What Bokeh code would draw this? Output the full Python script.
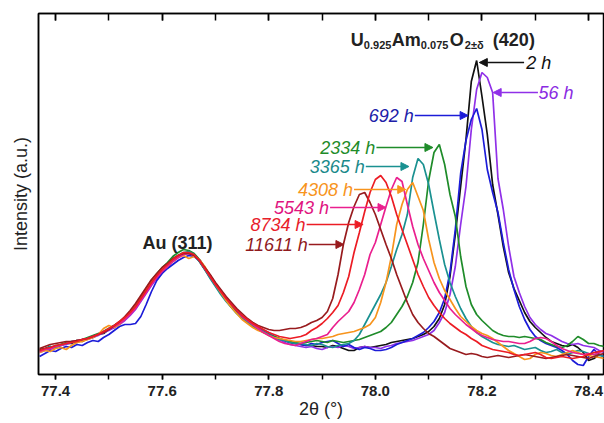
import numpy as np
from bokeh.plotting import figure
from bokeh.models import (ColumnDataSource, LinearAxis, Range1d, Arrow, NormalHead,
                          FixedTicker, NumeralTickFormatter, CustomJSTickFormatter)
from bokeh.embed import file_html
from bokeh.resources import INLINE
from bokeh.core.properties import value

# ---------------- data ----------------
two_theta = np.round(np.arange(77.37, 78.435, 0.01), 2)   # 107 sample positions

series_names = ["2 h", "56 h", "692 h", "2334 h", "3365 h", "4308 h", "5543 h", "8734 h", "11611 h"]

# Au (311) region, 77.37 .. 77.85
au_2h = [25,26,28,27,30,31,31,34,33,36,37,40,41,45,47,51,55,61,67,75,83,91,98,104,109,114,119,121,122,119,113,105,97,89,82,75,69,63,57,53,49,46,43,40,38,35,34,32,31]
au_56h = [22,24,25,27,29,30,32,32,34,35,37,39,42,44,47,50,54,59,65,73,81,89,96,102,107,113,117,120,121,120,115,107,99,91,84,77,71,65,59,55,51,47,44,42,38,35,32,30,29]
au_692h = [18,21,24,23,26,28,27,30,29,32,34,33,37,40,44,48,50,50,51,58,70,83,94,101,106,110,114,117,119,118,114,107,99,91,84,77,70,64,58,53,49,46,43,40,38,36,34,32,31]
au_2334h = [24,25,27,29,30,32,33,34,35,37,39,41,43,46,49,52,57,62,69,77,86,94,101,107,112,118,122,125,124,121,115,107,98,89,81,74,67,61,56,52,48,45,42,40,38,36,34,33,32]
au_3365h = [23,25,28,27,29,31,33,32,35,36,38,40,43,46,49,52,56,61,67,75,83,91,98,104,109,115,119,122,123,120,113,105,96,88,80,73,67,61,56,52,49,46,43,40,37,35,34,32,31]
au_4308h = [22,24,23,26,27,25,29,32,33,35,37,40,46,49,47,50,56,62,68,75,84,92,99,104,108,113,117,119,116,118,115,108,99,90,82,74,67,61,55,51,47,44,42,39,37,36,35,34,33]
au_5543h = [23,25,26,28,29,31,33,34,35,36,38,40,42,45,48,51,55,60,66,74,82,90,97,103,108,113,117,120,121,119,114,106,98,90,83,76,70,64,58,54,50,46,42,39,36,33,31,30,29]
au_8734h = [24,26,27,29,30,31,32,33,35,36,38,40,43,46,49,53,57,62,68,76,84,92,99,105,110,115,119,122,122,120,114,106,98,90,83,76,70,64,59,55,51,48,45,42,40,38,37,36,37]
au_11611h = [26,28,30,31,32,33,33,34,35,36,38,40,42,45,49,53,58,64,71,79,87,95,101,107,111,116,119,121,121,119,114,107,100,92,85,78,72,66,61,56,52,49,47,45,44,44,45,46,46]

# U0.925Am0.075O2 (420) region, 77.86 .. 78.43
pk_2h = [30,29,29,28,28,27,29,28,26,24,24,27,28,27,
         28,29,30,32,33,34,35,36,38,40,
         43,48,56,70,98,140,188,235,293,314,
         278,240,190,160,128,102,86,74,62,53,
         47,42,37,33,31,29,28,30,27,22,
         14,16,20,18]
pk_56h = [28,27,28,26,25,27,28,27,29,28,26,27,28,27,
          27,26,28,29,31,32,33,34,36,38,
          40,44,52,62,80,108,150,188,245,285,
          302,297,282,196,165,128,98,82,68,57,
          50,45,41,39,36,33,31,30,31,29,
          28,27,24,22]
pk_692h = [30,29,31,30,32,33,34,31,28,30,27,25,27,26,
           24,24,25,27,30,32,34,36,39,42,
           47,53,62,76,102,145,201,234,255,266,
           245,205,182,162,132,105,85,68,55,45,
           38,34,31,29,27,24,20,14,10,9,
           18,25,20,18]
pk_2334h = [31,32,33,34,33,32,34,33,32,33,34,35,37,39,
            41,43,47,52,60,68,78,92,112,150,
            194,222,230,210,180,158,118,88,70,60,
            54,49,44,41,39,38,38,37,38,37,
            36,35,32,30,28,27,29,33,38,35,
            31,31,29,28]
pk_3365h = [31,30,29,31,30,28,27,29,30,31,34,40,50,60,
            70,80,92,108,125,140,160,197,216,210,
            190,162,135,110,92,78,66,56,48,42,
            38,35,32,30,29,28,29,27,25,26,
            27,24,22,23,25,22,20,22,24,23,
            21,20,19,18]
pk_4308h = [33,34,35,36,36,37,38,40,41,42,43,45,47,50,
            57,72,92,118,150,170,185,192,178,164,
            135,112,96,84,75,66,58,53,48,44,
            41,39,36,32,28,24,21,18,15,16,
            20,22,21,19,18,20,22,24,22,20,
            19,18,17,16]
pk_5543h = [31,33,35,36,38,40,47,53,58,63,72,85,100,120,
            132,150,168,185,197,193,170,148,130,116,
            104,92,82,74,66,60,55,50,46,42,
            39,37,35,34,33,33,32,31,31,33,
            36,37,36,33,29,26,24,22,21,20,
            21,20,22,24]
pk_8734h = [38,40,44,47,51,56,62,69,82,98,122,142,163,182,
            195,199,192,178,160,145,130,115,100,88,
            77,69,62,56,51,47,43,40,36,33,
            29,27,25,24,23,22,20,19,20,21,
            22,20,17,16,17,18,17,16,17,18,
            20,22,23,24]
pk_11611h = [47,49,52,54,57,63,76,100,130,152,168,180,182,172,
             160,145,130,116,100,86,72,60,52,46,
             41,38,34,30,26,24,22,20,21,20,
             18,17,18,19,18,17,18,19,20,19,
             18,17,16,17,18,19,20,19,18,17,
             16,18,20,21]

au_parts = [au_2h, au_56h, au_692h, au_2334h, au_3365h, au_4308h, au_5543h, au_8734h, au_11611h]
pk_parts = [pk_2h, pk_56h, pk_692h, pk_2334h, pk_3365h, pk_4308h, pk_5543h, pk_8734h, pk_11611h]

x_major_ticks = [77.4, 77.6, 77.8, 78.0, 78.2, 78.4]
x_minor_ticks = [77.4, 77.5, 77.6, 77.7, 77.8, 77.9, 78.0, 78.1, 78.2, 78.3, 78.4]

# ---------------- styles ----------------
colors = ["#111111", "#9030e8", "#1c1cd8", "#1f8c2a", "#1a9191", "#f7941d",
          "#ea1f8e", "#ec1c24", "#981b1e"]
text_colors = ["#111111", "#8a2be2", "#2020a8", "#1f8c2a", "#1a8a8a", "#f7941d",
               "#e0157f", "#e8202a", "#8f1a1d"]
draw_order = [0, 1, 2, 3, 4, 5, 6, 8, 7]

FONT = "Liberation Sans"

p = figure(width=604, height=423, x_range=Range1d(77.368, 78.428), y_range=Range1d(0, 361),
           output_backend="svg", toolbar_location=None,
           min_border_left=38, min_border_right=1, min_border_top=13, min_border_bottom=49)
p.grid.visible = False
p.outline_line_color = "black"
p.outline_line_width = 1.5
p.background_fill_color = "white"
p.border_fill_color = "white"

for i in draw_order:
    y = au_parts[i] + pk_parts[i]
    src = ColumnDataSource(dict(x=two_theta, y=y))
    p.line("x", "y", source=src, line_color=colors[i], line_width=1.7)

# bottom axis
xa = p.xaxis[0]
xa.ticker = FixedTicker(ticks=x_major_ticks, minor_ticks=x_minor_ticks)
xa.formatter = NumeralTickFormatter(format="0.0")
xa.major_tick_in = 0
xa.major_tick_out = 5
xa.minor_tick_in = 0
xa.minor_tick_out = 5
xa.axis_line_width = 1.5
xa.major_tick_line_width = 1.5
xa.minor_tick_line_width = 1.5
xa.major_label_text_font = FONT
xa.major_label_text_font_style = "bold"
xa.major_label_text_font_size = "15px"
xa.major_label_text_color = "#222222"
xa.major_label_standoff = 6
xa.axis_label = "2θ (°)"
xa.axis_label_text_font = FONT
xa.axis_label_text_font_style = "normal"
xa.axis_label_text_font_size = "18px"
xa.axis_label_text_color = "#222222"
xa.axis_label_standoff = 0

# top axis (ticks only, inward, no labels)
top = LinearAxis(ticker=FixedTicker(ticks=x_major_ticks, minor_ticks=x_minor_ticks),
                 formatter=CustomJSTickFormatter(code="return ''"),
                 major_tick_in=7, major_tick_out=0, minor_tick_in=7, minor_tick_out=0,
                 major_label_standoff=0,
                 axis_line_width=1.5, major_tick_line_width=1.5, minor_tick_line_width=1.5)
p.add_layout(top, "above")

# left axis: no ticks, only the label
ya = p.yaxis[0]
ya.ticker = FixedTicker(ticks=[])
ya.major_tick_in = 0
ya.major_tick_out = 0
ya.minor_tick_in = 0
ya.minor_tick_out = 0
ya.major_label_standoff = 0
ya.axis_line_width = 1.5
ya.axis_label = "Intensity (a.u.)"
ya.axis_label_text_font = FONT
ya.axis_label_text_font_style = "normal"
ya.axis_label_text_font_size = "18px"
ya.axis_label_text_color = "#222222"
ya.axis_label_standoff = 8

# ---------------- annotations ----------------
label_x = [78.283, 78.306, 78.072, 78.000, 77.980, 77.958, 77.913, 77.869, 77.873]
label_y = [312, 282, 259, 227, 208, 185, 167, 150, 130]
label_align = ["left", "left", "right", "right", "right", "right", "right", "right", "right"]
arrow_start = [78.279, 78.305, 78.074, 78.002, 77.982, 77.960, 77.915, 77.871, 77.875]
arrow_end = [78.195, 78.221, 78.174, 78.108, 78.063, 78.057, 78.020, 77.977, 77.941]

lab_src = ColumnDataSource(dict(x=label_x, y=label_y, text=series_names,
                                color=text_colors, align=label_align))
p.text("x", "y", text="text", source=lab_src, text_color="color", text_align="align",
       text_baseline="middle", text_font=value(FONT), text_font_style="italic",
       text_font_size="18px")

for i in range(len(series_names)):
    p.add_layout(Arrow(end=NormalHead(size=8, fill_color=colors[i], line_color=colors[i],
                                      line_width=1),
                       x_start=arrow_start[i], y_start=label_y[i],
                       x_end=arrow_end[i], y_end=label_y[i],
                       line_color=colors[i], line_width=1.5))

p.text(x=[77.563], y=[132], text=["Au (311)"], text_align="left", text_baseline="middle",
       text_font=value(FONT), text_font_style="bold", text_font_size="18px",
       text_color="#222222")

title_src = ColumnDataSource(dict(
    x=[77.954] * 7, y=[335] * 7,
    text=["U", "0.925", "Am", "0.075", "O", "2±δ", "(420)"],
    dx=[0, 13, 41, 70, 99, 114, 142],
    dy=[0, 5, 0, 5, 0, 5, 0],
    size=["18px", "11px", "18px", "11px", "18px", "11px", "18px"]))
p.text("x", "y", text="text", source=title_src, x_offset="dx", y_offset="dy",
       text_font_size="size", text_align="left", text_baseline="alphabetic",
       text_font=value(FONT), text_font_style="bold", text_color="#222222")

open("out.html", "w").write(file_html(p, INLINE))
